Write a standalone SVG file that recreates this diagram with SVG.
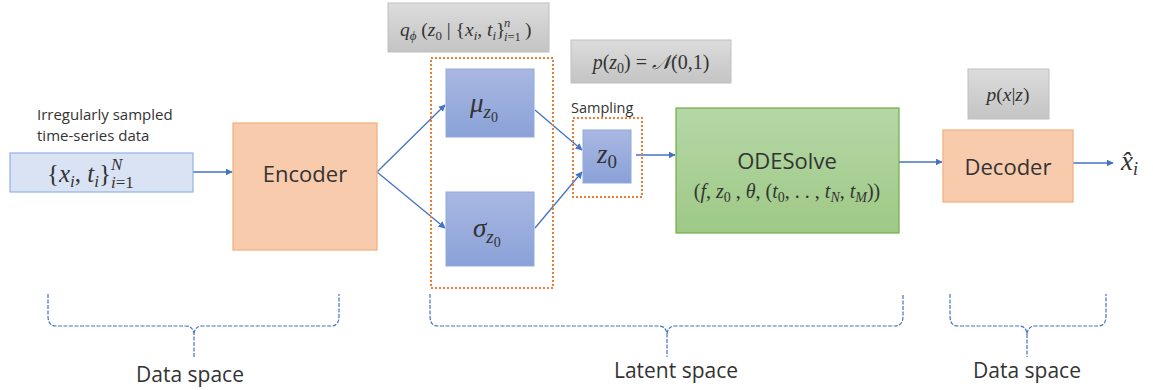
<svg xmlns="http://www.w3.org/2000/svg" width="1153" height="390" viewBox="0 0 1153 390">
<style>
.sans{font-family:"Open Sans","Noto Sans",sans-serif;fill:#333333}
.math{font-family:"Liberation Serif","DejaVu Serif",serif;font-style:italic;fill:#333333}
.up{font-style:normal}
.conn{stroke:#4472c4;stroke-width:1.3;fill:none}
.brace{stroke:#4472c4;stroke-width:1.2;fill:none;stroke-dasharray:4 1.5}
.dot{stroke:#ed7d31;stroke-width:2;fill:none;stroke-dasharray:2 2}
.gray{fill:url(#gGray);stroke:#bfbfbf;stroke-width:1}
.blue{fill:url(#gBlue);stroke:#8faadc;stroke-width:1}
.orange{fill:#f8cbad;stroke:#f4b183;stroke-width:1.3}
</style>
<defs>
<linearGradient id="gGray" x1="0" y1="0" x2="0" y2="1"><stop offset="0" stop-color="#dcdcdc"/><stop offset="1" stop-color="#c4c4c4"/></linearGradient>
<linearGradient id="gBlue" x1="0" y1="0" x2="0" y2="1"><stop offset="0" stop-color="#a9b8e2"/><stop offset="1" stop-color="#8aa1d8"/></linearGradient>
<linearGradient id="gGreen" x1="0" y1="0" x2="0" y2="1"><stop offset="0" stop-color="#b5d7a6"/><stop offset="1" stop-color="#9ec986"/></linearGradient>
<marker id="arr" viewBox="0 0 10 10" refX="9" refY="5" markerWidth="7" markerHeight="7" markerUnits="userSpaceOnUse" orient="auto"><path d="M0,0 L10,5 L0,10 z" fill="#4472c4"/></marker>
</defs>
<rect width="1153" height="390" fill="#ffffff"/>

<g id="connectors">
<line class="conn" x1="193" y1="172" x2="232" y2="172" marker-end="url(#arr)"/>
<line class="conn" x1="377" y1="172" x2="445" y2="105" marker-end="url(#arr)"/>
<line class="conn" x1="377" y1="172" x2="445" y2="228" marker-end="url(#arr)"/>
<line class="conn" x1="535" y1="110" x2="582" y2="150" marker-end="url(#arr)"/>
<line class="conn" x1="535" y1="228" x2="582" y2="172" marker-end="url(#arr)"/>
<line class="conn" x1="636" y1="155" x2="675" y2="155" marker-end="url(#arr)"/>
<line class="conn" x1="899" y1="162" x2="942" y2="162" marker-end="url(#arr)"/>
<line class="conn" x1="1073" y1="163" x2="1113" y2="163" marker-end="url(#arr)"/>
</g>

<g id="input">
<text class="sans" x="37" y="120" font-size="15">Irregularly sampled</text>
<text class="sans" x="37" y="141" font-size="15">time-series data</text>
<rect x="10" y="153" width="183" height="39" fill="#dae3f3" stroke="#8fb4e3" stroke-width="1.2"/>
<text class="math" x="47" y="182" font-size="25"><tspan class="up">{</tspan>x<tspan font-size="17" dy="5">i</tspan><tspan dy="-5" class="up">, </tspan>t<tspan font-size="17" dy="5">i</tspan><tspan dy="-5" class="up">}</tspan></text>
<text class="math" x="111" y="170" font-size="17">N</text>
<text class="math" x="111" y="188" font-size="17">i<tspan class="up">=1</tspan></text>
</g>

<g id="encoder">
<rect class="orange" x="233" y="123" width="144" height="127"/>
<text class="sans" x="305" y="182" font-size="22" text-anchor="middle">Encoder</text>
</g>

<g id="q-phi">
<rect class="gray" x="388" y="3" width="161" height="49"/>
<text class="math" x="400" y="36" font-size="19.5">q<tspan font-size="13" dy="4">ϕ</tspan><tspan dy="-4" class="up"> (</tspan>z<tspan font-size="13" dy="4" class="up">0</tspan><tspan dy="-4" class="up"> | {</tspan>x<tspan font-size="13" dy="4">i</tspan><tspan dy="-4" class="up">, </tspan>t<tspan font-size="13" dy="4">i</tspan><tspan dy="-4" class="up">}</tspan></text>
<text class="math" x="504" y="27" font-size="12.5">n</text>
<text class="math" x="504" y="41" font-size="12.5">i<tspan class="up">=1</tspan></text>
<text class="math" x="525" y="36" font-size="19.5"><tspan class="up">)</tspan></text>
</g>

<g id="prior">
<rect class="gray" x="571" y="40" width="160" height="43"/>
<text class="math" x="651" y="69" font-size="20" text-anchor="middle">p<tspan class="up">(</tspan>z<tspan font-size="14" dy="4" class="up">0</tspan><tspan dy="-4" class="up">) =  </tspan>𝒩<tspan class="up">(0,1)</tspan></text>
</g>

<g id="latent-group">
<rect class="dot" x="431" y="58" width="122" height="230"/>
</g>

<g id="mu">
<rect class="blue" x="446" y="69" width="88" height="68"/>
<text class="math" x="470" y="112" font-size="27">μ<tspan font-size="19" dy="6">z</tspan><tspan font-size="14" dy="4" class="up">0</tspan></text>
</g>

<g id="sigma">
<rect class="blue" x="446" y="192" width="88" height="74"/>
<text class="math" x="473" y="237" font-size="27">σ<tspan font-size="19" dy="6">z</tspan><tspan font-size="14" dy="4" class="up">0</tspan></text>
</g>

<g id="sampling">
<text class="sans" x="571" y="113" font-size="14.5">Sampling</text>
<rect class="dot" x="573" y="118" width="69" height="79"/>
</g>

<g id="z0">
<rect class="blue" x="583" y="130" width="48" height="53"/>
<text class="math" x="597" y="163" font-size="27">z<tspan font-size="19" dy="5" class="up">0</tspan></text>
</g>

<g id="odesolve">
<rect x="676" y="108" width="223" height="125" fill="url(#gGreen)" stroke="#70ad47" stroke-width="1.2"/>
<text class="math" x="787" y="198" font-size="20" text-anchor="middle"><tspan class="up">(</tspan>f<tspan class="up">, </tspan>z<tspan font-size="14" dy="4" class="up">0</tspan><tspan dy="-4" class="up"> , </tspan>θ<tspan class="up">, (</tspan>t<tspan font-size="14" dy="4" class="up">0</tspan><tspan dy="-4" class="up">, . . , </tspan>t<tspan font-size="14" dy="4">N</tspan><tspan dy="-4" class="up">, </tspan>t<tspan font-size="14" dy="4">M</tspan><tspan dy="-4" class="up">))</tspan></text>
<text class="sans" x="787" y="169" font-size="22" text-anchor="middle">ODESolve</text>
</g>

<g id="likelihood">
<rect class="gray" x="968" y="69" width="81" height="50"/>
<text class="math" x="1008" y="101" font-size="19.5" text-anchor="middle">p<tspan class="up">(</tspan>x<tspan class="up">|</tspan>z<tspan class="up">)</tspan></text>
</g>

<g id="decoder">
<rect class="orange" x="943" y="130" width="130" height="72"/>
<text class="sans" x="1008" y="175" font-size="22" text-anchor="middle">Decoder</text>
</g>

<g id="output">
<text class="math" x="1121" y="170" font-size="27">x̂<tspan font-size="18" dy="5">i</tspan></text>
</g>

<g id="braces">
<path class="brace" d="M48,294 V316 Q48,326 56,326 H186 Q193,326 194,334 V357 M194,334 Q195,326 202,326 H331 Q339,326 339,316 V294"/>
<path class="brace" d="M430,294 V316 Q430,326 438,326 H659 Q666,326 667,334 V357 M667,334 Q668,326 675,326 H895 Q903,326 903,316 V294"/>
<path class="brace" d="M950,294 V316 Q950,326 958,326 H1019 Q1026,326 1027,334 V357 M1027,334 Q1028,326 1035,326 H1098 Q1106,326 1106,316 V294"/>
<text class="sans" x="190" y="382" font-size="21" text-anchor="middle">Data space</text>
<text class="sans" x="676" y="378" font-size="21" text-anchor="middle">Latent space</text>
<text class="sans" x="1027" y="378" font-size="21" text-anchor="middle">Data space</text>
</g>
</svg>
